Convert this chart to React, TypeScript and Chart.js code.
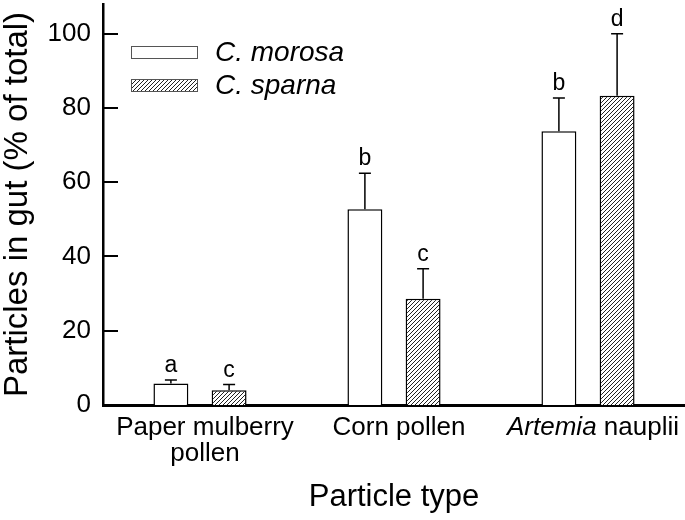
import React, { useEffect, useRef } from 'react';
import { Chart, registerables } from 'chart.js';

Chart.register(...registerables);

// ---- Data ----
const categories: string[][] = [['Paper mulberry', 'pollen'], ['Corn pollen'], ['Artemia nauplii']];
const italicWords: string[] = ['Artemia'];
const seriesNames: string[] = ['C. morosa', 'C. sparna'];
const morosaValues: number[] = [5.8, 52.7, 73.7];
const sparnaValues: number[] = [4.0, 28.6, 83.3];
const morosaErrors: number[] = [0.9, 9.7, 9.0];
const sparnaErrors: number[] = [1.5, 8.1, 16.7];
const morosaLetters: string[] = ['a', 'b', 'b'];
const sparnaLetters: string[] = ['c', 'c', 'd'];
const yTickValues: number[] = [0, 20, 40, 60, 80, 100];
const yMin = 0;
const yMax = 108;
const yTitle = 'Particles in gut (% of total)';
const xTitle = 'Particle type';

const FONT = '"Liberation Sans", Arial, Helvetica, sans-serif';

function makeHatch(ctx: CanvasRenderingContext2D): CanvasPattern | string {
  const size = 4;
  const c = document.createElement('canvas');
  c.width = size;
  c.height = size;
  const g = c.getContext('2d');
  if (!g) return '#999';
  g.fillStyle = '#ffffff';
  g.fillRect(0, 0, size, size);
  g.strokeStyle = '#222222';
  g.lineWidth = 1;
  g.beginPath();
  g.moveTo(0, size);
  g.lineTo(size, 0);
  g.moveTo(-1, 1);
  g.lineTo(1, -1);
  g.moveTo(size - 1, size + 1);
  g.lineTo(size + 1, size - 1);
  g.stroke();
  return ctx.createPattern(c, 'repeat') || '#999';
}

const overlayPlugin = {
  id: 'overlay',
  afterDraw(chart: any) {
    const ctx: CanvasRenderingContext2D = chart.ctx;
    const area = chart.chartArea;
    const yScale = chart.scales.y;
    const xScale = chart.scales.x;
    const errs = [morosaErrors, sparnaErrors];
    const letters = [morosaLetters, sparnaLetters];

    // error bars + letters
    chart.data.datasets.forEach((ds: any, di: number) => {
      const meta = chart.getDatasetMeta(di);
      meta.data.forEach((bar: any, i: number) => {
        const v = ds.data[i] as number;
        const top = yScale.getPixelForValue(v + errs[di][i]);
        ctx.save();
        ctx.strokeStyle = '#000';
        ctx.lineWidth = 1.5;
        ctx.beginPath();
        ctx.moveTo(bar.x, bar.y);
        ctx.lineTo(bar.x, top);
        ctx.moveTo(bar.x - 6, top);
        ctx.lineTo(bar.x + 6, top);
        ctx.stroke();
        ctx.font = `23px ${FONT}`;
        ctx.textAlign = 'center';
        ctx.textBaseline = 'alphabetic';
        ctx.fillStyle = '#000';
        ctx.fillText(letters[di][i], bar.x, top - 8);
        ctx.restore();
      });
    });

    // inward y ticks
    ctx.save();
    ctx.strokeStyle = '#000';
    ctx.lineWidth = 2;
    yTickValues.forEach((v) => {
      const py = Math.round(yScale.getPixelForValue(v));
      ctx.beginPath();
      ctx.moveTo(area.left, py);
      ctx.lineTo(area.left + 15, py);
      ctx.stroke();
    });
    ctx.restore();

    // x category labels (with italic genus names)
    ctx.save();
    ctx.fillStyle = '#000';
    ctx.textBaseline = 'alphabetic';
    ctx.textAlign = 'left';
    categories.forEach((lines, i) => {
      const cx = xScale.getPixelForValue(i) + 5;
      lines.forEach((line, li) => {
        const y = area.bottom + 30 + li * 26;
        const words = line.split(' ');
        const parts = words.map((w, wi) => ({
          text: (wi > 0 ? ' ' : '') + w,
          italic: italicWords.includes(w),
        }));
        let total = 0;
        parts.forEach((p) => {
          ctx.font = `${p.italic ? 'italic ' : ''}26px ${FONT}`;
          total += ctx.measureText(p.text).width;
        });
        let x = cx - total / 2;
        parts.forEach((p) => {
          ctx.font = `${p.italic ? 'italic ' : ''}26px ${FONT}`;
          ctx.fillText(p.text, x, y);
          x += ctx.measureText(p.text).width;
        });
      });
    });
    ctx.restore();

    // legend
    ctx.save();
    const boxX = area.left + 28;
    chart.data.datasets.forEach((ds: any, di: number) => {
      const by = area.top + 42 + di * 33;
      ctx.fillStyle = ds.backgroundColor;
      ctx.fillRect(boxX, by, 66, 12);
      ctx.strokeStyle = '#555';
      ctx.lineWidth = 1;
      ctx.strokeRect(boxX + 0.5, by + 0.5, 66, 12);
      ctx.fillStyle = '#000';
      ctx.font = `italic 28px ${FONT}`;
      ctx.textAlign = 'left';
      ctx.textBaseline = 'middle';
      ctx.fillText(ds.label, boxX + 84, by + 7);
    });
    ctx.restore();
  },
};

export default function App() {
  const ref = useRef<HTMLCanvasElement | null>(null);

  useEffect(() => {
    const canvas = ref.current;
    if (!canvas) return;
    const ctx = canvas.getContext('2d');
    if (!ctx) return;
    const hatch = makeHatch(ctx);

    const chart = new Chart(canvas, {
      type: 'bar',
      data: {
        labels: categories.map((c) => c.join(' ')),
        datasets: [
          {
            label: seriesNames[0],
            data: morosaValues,
            backgroundColor: '#ffffff',
            borderColor: '#000000',
            borderWidth: 1.5,
            barPercentage: 0.6,
            categoryPercentage: 0.6,
          },
          {
            label: seriesNames[1],
            data: sparnaValues,
            backgroundColor: hatch as any,
            borderColor: '#000000',
            borderWidth: 1.5,
            barPercentage: 0.6,
            categoryPercentage: 0.6,
          },
        ],
      },
      options: {
        responsive: false,
        animation: false,
        devicePixelRatio: 1,
        layout: { padding: { top: 4, right: 0, left: 0, bottom: 0 } },
        plugins: {
          legend: { display: false },
          tooltip: { enabled: false },
        },
        scales: {
          x: {
            z: 1,
            grid: { display: false, drawTicks: false },
            border: { display: true, color: '#000', width: 3 },
            ticks: { display: false },
            title: {
              display: true,
              text: xTitle,
              color: '#000',
              font: { family: FONT, size: 31, lineHeight: 1.2 },
              padding: { top: 0, bottom: 4 },
            },
            afterFit: (scale: any) => {
              scale.height = 115;
              scale.paddingLeft = 0;
              scale.paddingRight = 0;
            },
          },
          y: {
            z: 1,
            min: yMin,
            max: yMax,
            grid: { display: false, drawTicks: false },
            border: { display: true, color: '#000', width: 2.5 },
            ticks: {
              stepSize: 20,
              padding: 12,
              color: '#000',
              font: { family: FONT, size: 26 },
            },
            afterBuildTicks: (scale: any) => {
              scale.ticks = yTickValues.map((v) => ({ value: v }));
            },
            title: {
              display: true,
              text: yTitle,
              color: '#000',
              font: { family: FONT, size: 33, lineHeight: 1 },
              padding: { top: 1, bottom: 0 },
            },
            afterFit: (scale: any) => {
              scale.width = 103;
              scale.paddingTop = 0;
              scale.paddingBottom = 0;
            },
          },
        },
      },
      plugins: [overlayPlugin],
    });

    return () => chart.destroy();
  }, []);

  return (
    <div style={{ position: 'fixed', left: 0, top: 0, width: 685, height: 520, background: '#fff' }}>
      <canvas ref={ref} width={685} height={520} style={{ display: 'block' }} />
    </div>
  );
}
